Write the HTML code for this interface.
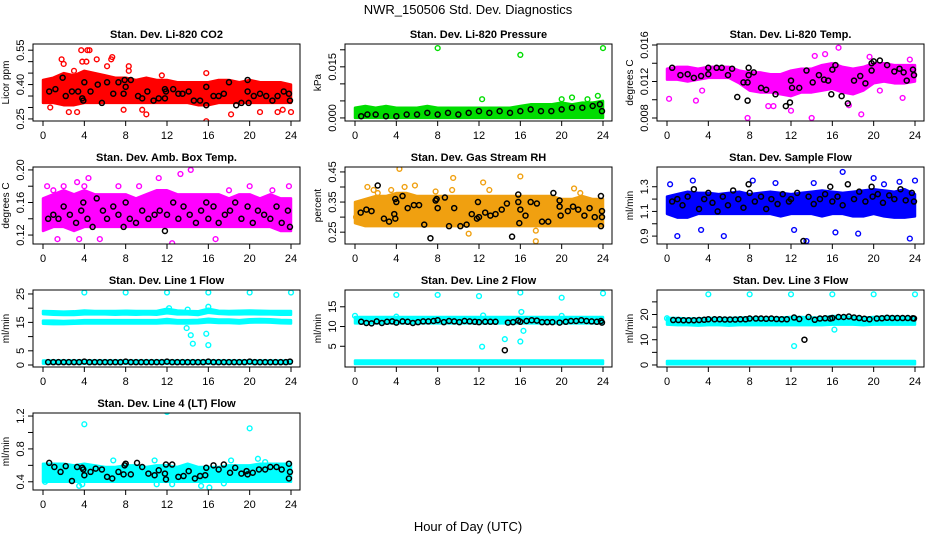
<!DOCTYPE html>
<html><head><meta charset="utf-8"><style>
html,body{margin:0;padding:0;background:#fff;}
svg{display:block;font-family:"Liberation Sans",sans-serif;}
</style></head><body>
<svg id="chart" width="936" height="540" viewBox="0 0 936 540" xmlns="http://www.w3.org/2000/svg">
<text x="468" y="14" text-anchor="middle" font-size="13">NWR_150506  Std. Dev. Diagnostics</text>
<text x="468" y="531" text-anchor="middle" font-size="13">Hour of Day (UTC)</text>
</svg>
<script>
const hours=[0,1,2,3,4,5,6,7,8,9,10,11,12,13,14,15,16,17,18,19,20,21,22,23,24];
const xTicks=[0,4,8,12,16,20,24];

const co2Lo=[0.32,0.32,0.31,0.31,0.32,0.32,0.32,0.32,0.32,0.32,0.32,0.32,0.32,0.32,0.32,0.31,0.31,0.32,0.32,0.32,0.32,0.32,0.32,0.32,0.32];
const co2Hi=[0.42,0.43,0.45,0.44,0.46,0.45,0.44,0.43,0.43,0.42,0.43,0.42,0.42,0.41,0.41,0.41,0.41,0.42,0.42,0.41,0.42,0.41,0.41,0.41,0.40];
const co2Out=[[1.8,0.51],[2,0.49],[2.5,0.28],[3,0.46],[3.7,0.55],[3.8,0.5],[4.3,0.55],[4.5,0.55],[4.2,0.5],[5.2,0.51],[6.6,0.51],[6.7,0.52],[6.2,0.48],[7.8,0.29],[8.3,0.48],[8.3,0.46],[9.6,0.29],[10,0.27],[11.5,0.44],[15.8,0.24],[15.8,0.45],[18.2,0.27],[21,0.28],[22.7,0.28],[23.2,0.29],[24,0.28],[3.3,0.28],[0.7,0.3]];
const co2Ref=[[0.6,0.37],[1.2,0.38],[1.9,0.43],[2.2,0.35],[2.8,0.37],[3.4,0.37],[3.8,0.34],[3.9,0.33],[4.0,0.41],[4.6,0.37],[5.3,0.40],[5.7,0.32],[6.2,0.41],[6.8,0.36],[7.3,0.41],[7.8,0.36],[7.9,0.42],[8,0.39],[8.5,0.42],[9.2,0.35],[9.6,0.34],[10.1,0.37],[10.7,0.33],[11.2,0.34],[11.8,0.34],[11.8,0.38],[11.9,0.37],[12.6,0.38],[13.1,0.36],[13.5,0.36],[14.1,0.37],[14.6,0.33],[15.2,0.33],[15.8,0.31],[15.8,0.39],[16.5,0.35],[17,0.35],[17.5,0.36],[18,0.41],[18.7,0.31],[19.2,0.32],[19.8,0.42],[19.8,0.37],[19.9,0.32],[20.4,0.35],[21,0.36],[21.6,0.35],[22.2,0.33],[22.7,0.35],[23.3,0.37],[23.8,0.36],[23.9,0.33]];

const presLo=[0,0,0,0,0,0,0,0,0,0,0,0,0,0,0,0,0,0,0,0,0,0,0,0,0];
const presHi=[0.003,0.0035,0.003,0.0035,0.003,0.003,0.003,0.0035,0.003,0.003,0.003,0.003,0.003,0.003,0.003,0.003,0.0035,0.004,0.004,0.004,0.0045,0.004,0.0045,0.0045,0.005];
const presOut=[[8,0.0205],[16,0.0185],[24,0.0205],[12.3,0.0055],[20,0.0055],[21,0.006],[22.5,0.0055],[23.5,0.0065]];
const presRef=[[0.6,0.0005],[1.2,0.001],[2,0.001],[3,0.0005],[4,0.0005],[5,0.001],[6,0.001],[7,0.0015],[8,0.001],[9,0.0015],[10,0.001],[11,0.0015],[12,0.002],[13,0.0015],[14,0.002],[15,0.0015],[16,0.002],[17,0.0025],[18,0.002],[19,0.002],[20,0.0025],[21,0.003],[22,0.003],[23,0.0035],[23.7,0.004],[23.9,0.002]];

const tempLo=[0.0122,0.0122,0.0120,0.0122,0.0124,0.0124,0.0124,0.0118,0.0110,0.0108,0.0108,0.0106,0.0104,0.0108,0.0108,0.0110,0.0112,0.0108,0.0106,0.0110,0.0118,0.0120,0.0118,0.0118,0.0120];
const tempHi=[0.0134,0.0136,0.0136,0.0134,0.0136,0.0136,0.0136,0.0132,0.0130,0.0130,0.0128,0.0128,0.0132,0.0134,0.0134,0.0138,0.0140,0.0136,0.0134,0.0136,0.0140,0.0140,0.0138,0.0138,0.0138];
const tempOut=[[0.2,0.0101],[2.8,0.0099],[3.4,0.0110],[7.8,0.0080],[14,0.0080],[16.6,0.0157],[15.3,0.0150],[14.3,0.0148],[19.6,0.0147],[18.8,0.0084],[10.3,0.0093],[9.8,0.0093],[12,0.0088],[22.8,0.0102],[20.6,0.0110],[17.6,0.0094],[23.5,0.0144]];
const tempRef=[[0.5,0.0135],[1.3,0.0127],[2.0,0.0128],[2.6,0.0124],[3.3,0.0126],[4.0,0.0135],[4.0,0.0128],[4.8,0.0135],[5.3,0.0135],[5.9,0.0127],[6.3,0.0134],[6.8,0.0103],[7.4,0.0119],[7.8,0.0099],[7.8,0.0119],[7.9,0.0135],[7.9,0.0127],[8.4,0.0130],[9.1,0.0113],[9.6,0.0111],[10.5,0.0106],[11.5,0.0093],[11.9,0.0097],[12,0.0121],[12.1,0.0113],[12.8,0.0113],[13.5,0.0132],[14.1,0.0119],[14.7,0.0127],[15.2,0.0122],[15.6,0.0121],[16.0,0.0133],[15.9,0.0106],[16.3,0.0138],[16.9,0.0104],[17.5,0.0096],[18.1,0.0121],[18.7,0.0126],[19.2,0.0118],[19.8,0.0140],[19.8,0.0132],[20.0,0.0142],[20.6,0.0143],[21.3,0.0138],[22,0.0131],[22.5,0.0134],[22.9,0.0130],[23.2,0.0121],[23.8,0.0133],[23.9,0.0127]];

const ambLo=[0.125,0.13,0.13,0.125,0.13,0.13,0.13,0.13,0.13,0.13,0.13,0.13,0.13,0.13,0.13,0.13,0.13,0.13,0.13,0.13,0.13,0.13,0.13,0.125,0.125];
const ambHi=[0.165,0.17,0.175,0.17,0.175,0.17,0.17,0.17,0.17,0.165,0.17,0.175,0.175,0.17,0.17,0.17,0.17,0.17,0.165,0.17,0.17,0.165,0.17,0.165,0.165];
const ambOut=[[0.4,0.18],[1,0.175],[2,0.18],[3.3,0.185],[4,0.18],[4.4,0.19],[7.3,0.18],[11.2,0.19],[13.3,0.195],[14.3,0.20],[12.5,0.11],[3.5,0.115],[1.4,0.115],[20,0.18],[18,0.175],[23.8,0.18],[9.3,0.18],[5.5,0.115],[16.7,0.115],[22.2,0.175]];
const ambRef=[[0.5,0.14],[1,0.145],[1.5,0.14],[2,0.155],[2.6,0.145],[3.2,0.135],[3.7,0.15],[3.9,0.16],[4.3,0.14],[4.8,0.13],[5.2,0.165],[5.8,0.15],[6.2,0.14],[6.8,0.155],[7.3,0.145],[7.8,0.13],[8,0.16],[8.4,0.14],[9,0.135],[9.6,0.15],[10.2,0.14],[10.8,0.145],[11.3,0.15],[11.8,0.125],[12,0.145],[12.6,0.16],[13.1,0.14],[13.6,0.155],[14.2,0.145],[14.8,0.135],[15.3,0.15],[15.8,0.16],[16,0.14],[16.5,0.155],[17,0.135],[17.6,0.145],[18.1,0.15],[18.6,0.16],[19.2,0.14],[19.8,0.155],[20.3,0.135],[20.8,0.15],[21.4,0.145],[22,0.14],[22.6,0.155],[23.1,0.135],[23.7,0.15],[23.9,0.13]];

const rhLo=[0.28,0.27,0.27,0.27,0.27,0.27,0.27,0.27,0.27,0.27,0.27,0.27,0.27,0.27,0.27,0.27,0.27,0.27,0.27,0.27,0.27,0.27,0.27,0.27,0.27];
const rhHi=[0.35,0.36,0.37,0.37,0.38,0.38,0.37,0.37,0.37,0.37,0.37,0.37,0.37,0.37,0.37,0.37,0.37,0.37,0.37,0.37,0.36,0.36,0.37,0.36,0.36];
const rhOut=[[0.1,0.30],[1.2,0.40],[1.8,0.39],[4.3,0.46],[4.8,0.40],[5.8,0.405],[9.5,0.43],[12.4,0.415],[16,0.435],[17.5,0.22],[21.2,0.395],[7.8,0.385],[13,0.39],[11,0.245],[3.5,0.39],[2.2,0.38],[17.5,0.255],[21.8,0.38],[9.4,0.39]];
const rhRef=[[0.55,0.315],[1.1,0.325],[1.6,0.32],[2.2,0.405],[2.8,0.295],[3.3,0.285],[3.8,0.31],[3.9,0.295],[3.9,0.36],[4,0.35],[4.6,0.37],[5.1,0.33],[5.7,0.34],[6.2,0.34],[6.7,0.275],[7.3,0.23],[7.8,0.355],[7.9,0.36],[8,0.33],[8.7,0.365],[9.1,0.27],[9.6,0.33],[10.2,0.27],[10.8,0.275],[11.3,0.31],[11.8,0.295],[11.9,0.35],[12,0.30],[12.6,0.315],[13.1,0.305],[13.6,0.31],[14.2,0.325],[14.7,0.345],[15.2,0.235],[15.8,0.375],[15.8,0.35],[15.9,0.28],[16,0.325],[16.5,0.305],[17,0.35],[17.6,0.345],[18.1,0.285],[18.7,0.285],[19.2,0.38],[19.8,0.355],[19.8,0.335],[19.9,0.305],[20.6,0.32],[21.1,0.335],[21.6,0.325],[22.2,0.305],[22.7,0.33],[23.2,0.30],[23.8,0.37],[23.8,0.27],[23.9,0.32],[23.9,0.30]];

const flowLo=[1.08,1.05,1.05,1.08,1.08,1.08,1.08,1.08,1.08,1.08,1.08,1.06,1.08,1.08,1.08,1.06,1.08,1.08,1.06,1.06,1.08,1.06,1.05,1.05,1.06];
const flowHi=[1.22,1.24,1.26,1.25,1.25,1.24,1.25,1.26,1.24,1.25,1.26,1.25,1.24,1.25,1.26,1.27,1.26,1.25,1.26,1.27,1.28,1.27,1.26,1.28,1.24];
const flowOut=[[0.3,1.32],[1,0.9],[2.5,1.35],[5.5,0.9],[8.3,1.35],[10.5,1.33],[13.5,0.86],[14.2,1.33],[17,1.42],[18.5,0.92],[20,1.37],[22.5,1.34],[23.5,0.88],[24,1.35],[21,1.32],[3.3,0.95],[12.3,0.95],[16.3,0.93]];
const flowRef=[[0.5,1.18],[1,1.2],[1.5,1.15],[2,1.22],[2.6,1.28],[3.1,1.12],[3.6,1.2],[4,1.25],[4.4,1.17],[4.9,1.1],[5.4,1.22],[5.9,1.15],[6.4,1.27],[6.9,1.2],[7.4,1.13],[7.9,1.32],[8,1.25],[8.5,1.18],[9.1,1.22],[9.6,1.12],[10.1,1.2],[10.7,1.16],[11.2,1.24],[11.8,1.18],[12,1.2],[12.6,1.25],[13.2,0.86],[13.7,1.22],[14.2,1.16],[14.8,1.2],[15.3,1.24],[15.8,1.3],[16,1.18],[16.5,1.22],[17,1.15],[17.5,1.32],[18.1,1.2],[18.6,1.26],[19.2,1.18],[19.8,1.3],[19.9,1.22],[20.4,1.24],[20.9,1.17],[21.5,1.23],[22,1.2],[22.6,1.28],[23.1,1.19],[23.7,1.25],[23.9,1.18]];

const l1UpLo=[17.9,17.7,17.6,17.6,17.8,17.8,17.8,17.7,17.8,17.7,17.8,17.7,18.2,17.8,17.8,17.6,18.4,18,17.8,17.8,17.9,17.8,17.8,17.7,17.7];
const l1UpHi=[19,18.9,18.8,18.9,19.2,19,19,19,19.1,19,19,19,19.8,19.2,19,18.9,19.8,19.1,19,19.1,19.2,19.1,19,19,19];
const l1MidLo=[14.5,14.4,14.4,14.5,14.6,14.6,14.6,14.6,14.6,14.6,14.6,14.6,14.8,14.6,14.6,14.7,15,14.8,14.8,14.6,14.9,15,14.9,14.7,14.6];
const l1MidHi=[15.6,15.6,15.5,15.6,15.8,15.8,15.8,15.8,15.8,15.8,15.8,15.8,16.2,15.8,15.8,15.9,16.3,16,16,15.8,16.1,16.2,16.1,15.9,15.8];
const l1BotLo=[0.5,0.5,0.5,0.5,0.5,0.5,0.5,0.5,0.5,0.5,0.5,0.5,0.5,0.5,0.5,0.5,0.5,0.5,0.5,0.5,0.5,0.5,0.5,0.5,0.5];
const l1BotHi=[1.6,1.6,1.6,1.6,1.6,1.6,1.6,1.6,1.6,1.6,1.6,1.6,1.6,1.6,1.6,1.6,1.6,1.6,1.6,1.6,1.6,1.6,1.6,1.6,1.6];
const l1Out=[[4,25.5],[8,25.5],[12,25.5],[16,25.5],[20,25.5],[24,25.5],[14.3,10.5],[14.5,7.5],[16,7],[13.9,13],[15.8,11],[16,20.5],[12.2,20],[14,19.5]];
const l1Ref=[[0.5,1],[1,1],[1.5,1],[2,1],[2.5,1],[3,1],[3.5,1],[4,1.2],[4.5,1],[5,1],[5.5,1],[6,1],[6.5,1],[7,1],[7.5,1],[8,1.2],[8.5,1],[9,1],[9.5,1],[10,1],[10.5,1],[11,1],[11.5,1],[12,1.2],[12.5,1],[13,1],[13.5,1],[14,1],[14.5,1],[15,1],[15.5,1],[16,1.2],[16.5,1],[17,1],[17.5,1],[18,1],[18.5,1],[19,1],[19.5,1],[20,1.2],[20.5,1],[21,1],[21.5,1],[22,1],[22.5,1],[23,1],[23.5,1],[23.9,1.2]];

const l2UpLo=[10.8,10.8,10.8,10.8,10.8,10.8,10.8,10.8,10.8,10.8,10.8,10.8,10.8,10.8,10.8,10.8,10.8,10.8,10.8,10.8,10.8,10.8,10.8,10.8,10.8];
const l2UpHi=[12.4,12.4,12.4,12.4,12.4,12.4,12.4,12.4,12.4,12.4,12.4,12.4,12.4,12.4,12.4,12.4,12.4,12.4,12.4,12.4,12.4,12.4,12.4,12.4,12.4];
const l2BotLo=[0.5,0.5,0.5,0.5,0.5,0.5,0.5,0.5,0.5,0.5,0.5,0.5,0.5,0.5,0.5,0.5,0.5,0.5,0.5,0.5,0.5,0.5,0.5,0.5,0.5];
const l2BotHi=[1.4,1.4,1.4,1.4,1.4,1.4,1.4,1.4,1.4,1.4,1.4,1.4,1.4,1.4,1.4,1.4,1.4,1.4,1.4,1.4,1.4,1.4,1.4,1.4,1.4];
const l2Out=[[0,12.7],[4,18],[8,18],[12,17.7],[16,18.6],[20,17.3],[24,18.4],[12.3,4.9],[14.5,6.8],[16,6.2],[16.1,13.7],[16.3,8.9],[12.4,12.8],[20,12.7],[4,12.5]];
const l2Ref=[[0.6,11.2],[1.1,10.9],[1.6,10.8],[2.1,11.3],[2.6,10.9],[3.1,11.2],[3.6,11.3],[4,11],[4.6,11.3],[5.1,11.2],[5.6,10.9],[6.1,11.1],[6.6,11.3],[7.1,11.3],[7.6,11.4],[8,11.6],[8.6,11.1],[9.1,11.4],[9.6,11.3],[10.1,11.1],[10.6,11.4],[11.1,11.3],[11.6,11.2],[12,11.1],[12.6,11.2],[13.1,11.2],[13.6,11.2],[14.5,4],[14.8,11],[15.3,11.1],[15.8,11.5],[16,11.2],[16.6,11.4],[17.1,11.6],[17.6,11.5],[18.1,11.1],[18.6,11.1],[19.1,11.1],[19.8,11],[20.4,11.2],[20.9,11.4],[21.4,11.4],[21.9,11.6],[22.4,11.4],[22.9,11.3],[23.4,11.2],[23.8,11.4],[23.9,11]];

const l3UpLo=[16,15.8,15.8,15.6,15.8,15.8,15.6,15.8,15.8,15.8,15.8,15.8,15.8,15.8,15.8,15.8,16,16,16,15.8,16,16,16,16,16];
const l3UpHi=[18.6,18.6,18.4,18.4,18.6,18.6,18.6,18.8,18.8,18.8,18.8,18.8,19,19,18.8,18.8,19.4,19.2,19,18.8,19,19.2,19.2,19,19];
const l3BotLo=[0.3,0.3,0.3,0.3,0.3,0.3,0.3,0.3,0.3,0.3,0.3,0.3,0.3,0.3,0.3,0.3,0.3,0.3,0.3,0.3,0.3,0.3,0.3,0.3,0.3];
const l3BotHi=[1.6,1.6,1.6,1.6,1.6,1.6,1.6,1.6,1.6,1.6,1.6,1.6,1.6,1.6,1.6,1.6,1.6,1.6,1.6,1.6,1.6,1.6,1.6,1.6,1.6];
const l3Out=[[4,28],[8,28],[12,28],[16,28],[20,28],[24,28],[12.3,7.5],[0,18.5],[16.2,14]];
const l3Ref=[[0.6,17.8],[1.1,17.8],[1.6,17.7],[2.1,17.7],[2.6,17.7],[3.1,17.8],[3.6,17.9],[4,18.1],[4.6,18.1],[5.1,18.1],[5.6,18],[6.1,18],[6.6,18],[7.1,18.1],[7.6,18.1],[8,18.4],[8.6,18.4],[9.1,18.4],[9.6,18.3],[10.1,18.4],[10.6,18.2],[11.1,18.1],[11.6,18.1],[12.3,18.8],[12.8,18.2],[13.3,10],[13.7,19],[14.3,17.9],[14.8,18.4],[15.3,18.5],[15.8,18.4],[16,18.6],[16.6,19],[17.1,19],[17.6,19.2],[18.1,18.8],[18.6,18.6],[19.1,18.3],[19.6,18.1],[20.3,18.4],[20.8,18.5],[21.3,18.7],[21.8,18.6],[22.3,18.6],[22.8,18.6],[23.3,18.6],[23.8,18.5],[23.9,18.4]];

const l4Lo=[0.40,0.40,0.40,0.40,0.40,0.40,0.40,0.40,0.40,0.40,0.40,0.40,0.40,0.40,0.40,0.40,0.40,0.40,0.40,0.40,0.40,0.40,0.40,0.40,0.40];
const l4Hi=[0.62,0.62,0.62,0.60,0.62,0.60,0.58,0.58,0.60,0.60,0.58,0.60,0.60,0.58,0.62,0.58,0.58,0.58,0.60,0.60,0.60,0.62,0.62,0.62,0.62];
const l4Out=[[4,1.10],[12,1.25],[20,1.05],[3.5,0.35],[3.8,0.37],[15.3,0.35],[16.1,0.33],[17.5,0.38],[18.2,0.66],[20.8,0.68],[6.8,0.66],[10.8,0.66],[21.5,0.64],[12.5,0.37],[11,0.37],[0.2,0.40]];
const l4Ref=[[0.6,0.63],[1.1,0.58],[1.7,0.52],[2.2,0.59],[2.8,0.41],[3.3,0.58],[3.8,0.57],[3.9,0.55],[4,0.48],[4.6,0.52],[5.1,0.56],[5.7,0.55],[6.2,0.46],[6.7,0.44],[7.3,0.52],[7.8,0.49],[7.9,0.60],[8,0.62],[8.5,0.49],[9.1,0.63],[9.6,0.58],[10.2,0.50],[10.8,0.48],[11.2,0.54],[11.8,0.50],[11.9,0.61],[11.9,0.43],[12.5,0.61],[13.1,0.46],[13.6,0.47],[14.1,0.53],[14.7,0.44],[15.2,0.47],[15.7,0.48],[15.8,0.57],[16.5,0.60],[17,0.55],[17.5,0.61],[18.1,0.51],[18.6,0.57],[19.2,0.50],[19.7,0.53],[19.8,0.49],[20.3,0.51],[20.9,0.55],[21.5,0.55],[22,0.58],[22.6,0.58],[23.1,0.55],[23.8,0.62],[23.8,0.44],[23.9,0.52]];

const panels=[
 {name:"co2",title:"Stan. Dev. Li-820 CO2",ylab:"Licor ppm",col:0,row:0,lo:0.241,hi:0.577,color:"#ff0000",bands:[[co2Lo,co2Hi]],out:co2Out,ref:co2Ref,ticks:[0.25,0.30,0.35,0.40,0.45,0.50,0.55],labels:["0.25","","","0.40","","","0.55"]},
 {name:"pressure",title:"Stan. Dev. Li-820 Pressure",ylab:"kPa",col:1,row:0,lo:-0.0009,hi:0.0217,color:"#00dd00",bands:[[presLo,presHi]],out:presOut,ref:presRef,ticks:[0,0.005,0.010,0.015,0.020],labels:["0.000","","","0.015",""]},
 {name:"temp",title:"Stan. Dev. Li-820 Temp.",ylab:"degrees C",col:2,row:0,lo:0.00767,hi:0.01611,color:"#ff00ff",bands:[[tempLo,tempHi]],out:tempOut,ref:tempRef,ticks:[0.008,0.010,0.012,0.014,0.016],labels:["0.008","","0.012","","0.016"]},
 {name:"amb-box-temp",title:"Stan. Dev. Amb. Box Temp.",ylab:"degrees C",col:0,row:1,lo:0.109,hi:0.2036,color:"#ff00ff",bands:[[ambLo,ambHi]],out:ambOut,ref:ambRef,ticks:[0.12,0.14,0.16,0.18,0.20],labels:["0.12","","0.16","","0.20"]},
 {name:"gas-rh",title:"Stan. Dev. Gas Stream RH",ylab:"percent",col:1,row:1,lo:0.2107,hi:0.4664,color:"#f0a010",bands:[[rhLo,rhHi]],out:rhOut,ref:rhRef,ticks:[0.25,0.30,0.35,0.40,0.45],labels:["0.25","","0.35","","0.45"]},
 {name:"sample-flow",title:"Stan. Dev. Sample Flow",ylab:"ml/min",col:2,row:1,lo:0.836,hi:1.46,color:"#0000ff",bands:[[flowLo,flowHi]],out:flowOut,ref:flowRef,ticks:[0.9,1.0,1.1,1.2,1.3],labels:["0.9","","1.1","","1.3"]},
 {name:"line1-flow",title:"Stan. Dev. Line 1 Flow",ylab:"ml/min",col:0,row:2,lo:-0.7,hi:26.4,color:"#00ffff",bands:[[l1UpLo,l1UpHi],[l1MidLo,l1MidHi],[l1BotLo,l1BotHi]],out:l1Out,ref:l1Ref,ticks:[0,5,10,15,20,25],labels:["0","5","","15","","25"]},
 {name:"line2-flow",title:"Stan. Dev. Line 2 Flow",ylab:"ml/min",col:1,row:2,lo:-0.25,hi:19.25,color:"#00ffff",bands:[[l2UpLo,l2UpHi],[l2BotLo,l2BotHi]],out:l2Out,ref:l2Ref,ticks:[5,10,15],labels:["5","10","15"]},
 {name:"line3-flow",title:"Stan. Dev. Line 3 Flow",ylab:"ml/min",col:2,row:2,lo:-0.8,hi:29.7,color:"#00ffff",bands:[[l3UpLo,l3UpHi],[l3BotLo,l3BotHi]],out:l3Out,ref:l3Ref,ticks:[0,5,10,15,20,25],labels:["0","","10","","20",""]},
 {name:"line4-flow",title:"Stan. Dev. Line 4 (LT) Flow",ylab:"ml/min",col:0,row:3,lo:0.30,hi:1.237,color:"#00ffff",bands:[[l4Lo,l4Hi]],out:l4Out,ref:l4Ref,ticks:[0.4,0.6,0.8,1.0,1.2],labels:["0.4","","0.8","","1.2"]}
];

const NS="http://www.w3.org/2000/svg";
const svg=document.getElementById("chart");
const colLeft=[33,345,657], rowTop=[44,167,290,413], W=267, H=77;
function mk(tag,attrs,parent){const e=document.createElementNS(NS,tag);for(const k in attrs)e.setAttribute(k,attrs[k]);parent.appendChild(e);return e;}

panels.forEach(p=>{
  const L=colLeft[p.col], T=rowTop[p.row], B=T+H, R=L+W;
  const xs=h=>L+10+h*(248/24);
  const ys=v=>B-(v-p.lo)/(p.hi-p.lo)*H;
  const g=mk("g",{},svg);
  
  
  const clip=mk("clipPath",{id:"c-"+p.name},g);
  mk("rect",{x:L,y:T,width:W,height:H},clip);
  const plot=mk("g",{"clip-path":"url(#c-"+p.name+")"},g);
  p.bands.forEach((b,i)=>{
    let pts=hours.map((h,k)=>xs(h)+","+ys(b[1][k]));
    pts=pts.concat(hours.slice().reverse().map((h,k)=>xs(h)+","+ys(b[0][hours.length-1-k])));
    const poly=mk("polygon",{points:pts.join(" "),fill:p.color,stroke:p.color,"stroke-width":"2.5","stroke-linejoin":"round"},plot);
    
    
  });
  p.out.forEach(d=>{
    const c=mk("circle",{cx:xs(d[0]),cy:ys(d[1]),r:2.4,fill:"none",stroke:p.color,"stroke-width":"1.4"},plot);
    
    
  });
  p.ref.forEach(d=>{
    const c=mk("circle",{cx:xs(d[0]),cy:ys(d[1]),r:2.5,fill:"none",stroke:"#000","stroke-width":"1.5"},plot);
    
    
  });
  const box=mk("rect",{x:L,y:T,width:W,height:H,fill:"none",stroke:"#000","stroke-width":"1"},g);
  
  
  const t=mk("text",{x:L+W/2,y:T-6,"text-anchor":"middle","font-size":"11","font-weight":"bold"},g);
  t.textContent=p.title;
  
  
  xTicks.forEach(h=>{
    mk("line",{x1:xs(h),x2:xs(h),y1:B,y2:B+5,stroke:"#000"},g);
    const tl=mk("text",{x:xs(h),y:B+18,"text-anchor":"middle","font-size":"11"},g);
    tl.textContent=String(h);
    
    
  });
  p.ticks.forEach((v,i)=>{
    const y=ys(v);
    mk("line",{x1:L-5,x2:L,y1:y,y2:y,stroke:"#000"},g);
    if(p.labels[i]){
      const yl=mk("text",{x:L-9,y:y,"text-anchor":"middle","font-size":"11",transform:"rotate(-90 "+(L-9)+" "+y+")"},g);
      yl.textContent=p.labels[i];
      
      
    }
  });
  const ya=mk("text",{x:L-24,y:T+H/2,"text-anchor":"middle","font-size":"10",transform:"rotate(-90 "+(L-24)+" "+(T+H/2)+")"},g);
  ya.textContent=p.ylab;
  
  
});
</script>
</body></html>
